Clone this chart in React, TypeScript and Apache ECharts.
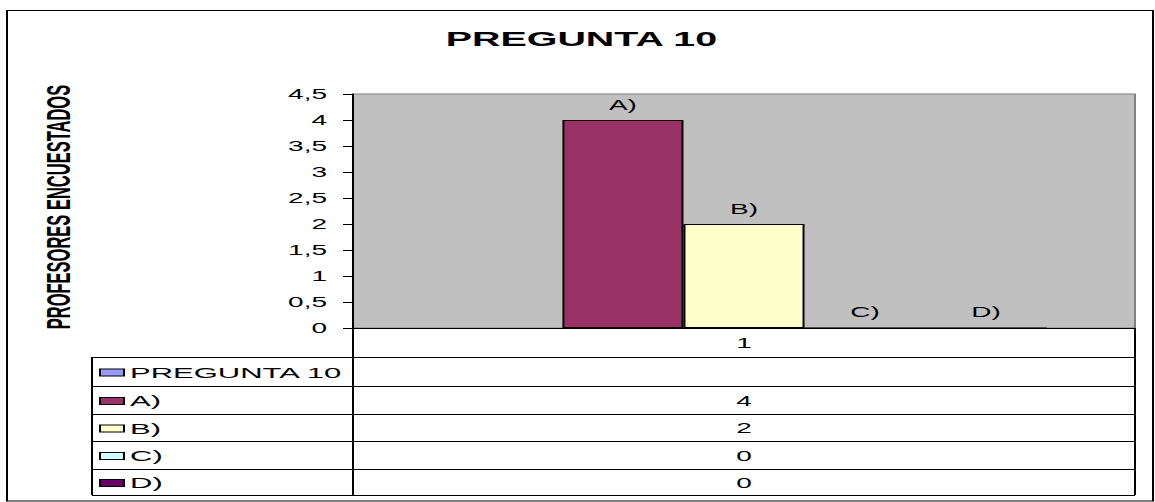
import React, { useEffect, useRef } from "react";
import * as echarts from "echarts";

// ---- data ----
const title = "PREGUNTA 10";
const yAxisTitle = "PROFESORES ENCUESTADOS";
const categories = ["1"];
const seriesNames = ["PREGUNTA 10", "A)", "B)", "C)", "D)"];
const seriesValues: (number | null)[] = [null, 4, 2, 0, 0];
const seriesColors = ["#9999FF", "#993366", "#FFFFCC", "#CCFFFF", "#660066"];
const yMin = 0;
const yMax = 4.5;
const yStep = 0.5;

const FONT = "'Liberation Sans', Arial, sans-serif";
const SX = 2; // horizontal stretch of the original picture
const W = 578;
const H = 502;

export default function App() {
  const ref = useRef<HTMLDivElement>(null);

  useEffect(() => {
    if (!ref.current) return;
    const chart = echarts.init(ref.current, null, { renderer: "svg" });

    // layout (internal, unstretched coordinates)
    const gridLeft = 176.5;
    const gridRight = 567.5;
    const gridTop = 94;
    const gridBottomY = 328;
    const tableLeft = 46;
    const rowEdges = [357, 386, 414, 441, 469, 495];

    const graphics: any[] = [];
    // outer border
    graphics.push({
      type: "rect",
      shape: { x: 3.5, y: 10.5, width: 573, height: 490.5 },
      style: { fill: "none", stroke: "#000", lineWidth: 1 },
      z: 0,
    });
    // y-axis title
    graphics.push({
      type: "text",
      x: 29.5,
      y: 207,
      rotation: Math.PI / 2,
      style: {
        text: yAxisTitle,
        font: `bold 16.5px ${FONT}`,
        fill: "#000",
        textAlign: "center",
        textVerticalAlign: "middle",
      },
    });
    // axis row verticals
    graphics.push({
      type: "line",
      shape: { x1: gridLeft, y1: gridBottomY, x2: gridLeft, y2: rowEdges[rowEdges.length - 1] },
      style: { stroke: "#000", lineWidth: 1 },
      z: 10,
    });
    graphics.push({
      type: "line",
      shape: { x1: gridRight, y1: gridBottomY, x2: gridRight, y2: rowEdges[rowEdges.length - 1] },
      style: { stroke: "#000", lineWidth: 1 },
      z: 10,
    });
    graphics.push({
      type: "line",
      shape: { x1: tableLeft, y1: rowEdges[0], x2: tableLeft, y2: rowEdges[rowEdges.length - 1] },
      style: { stroke: "#000", lineWidth: 1 },
      z: 10,
    });
    rowEdges.forEach((y) => {
      graphics.push({
        type: "line",
        shape: { x1: tableLeft, y1: y + 0.5, x2: gridRight, y2: y + 0.5 },
        style: { stroke: "#000", lineWidth: 1 },
        z: 10,
      });
    });
    const valueCenterX = (gridLeft + gridRight) / 2;
    seriesNames.forEach((name, i) => {
      const cy = (rowEdges[i] + rowEdges[i + 1]) / 2 + 1;
      graphics.push({
        type: "rect",
        shape: { x: 50, y: cy - 3.5, width: 12, height: 7 },
        style: { fill: seriesColors[i], stroke: "#000", lineWidth: 1 },
        z: 10,
      });
      graphics.push({
        type: "text",
        x: 65,
        y: cy,
        style: {
          text: name,
          font: `15.5px ${FONT}`,
          fill: "#000",
          textAlign: "left",
          textVerticalAlign: "middle",
        },
        z: 10,
      });
      const v = seriesValues[i];
      if (v !== null && v !== undefined) {
        graphics.push({
          type: "text",
          x: valueCenterX,
          y: cy,
          style: {
            text: String(v),
            font: `14px ${FONT}`,
            fill: "#000",
            textAlign: "center",
            textVerticalAlign: "middle",
          },
          z: 10,
        });
      }
    });

    chart.setOption({
      animation: false,
      backgroundColor: "#fff",
      title: {
        text: title,
        left: 290.75,
        top: 29,
        padding: 0,
        textAlign: "center",
        textStyle: { fontFamily: FONT, fontSize: 19.7, fontWeight: "bold", color: "#000" },
      },
      grid: {
        left: gridLeft,
        right: W - gridRight,
        top: gridTop,
        bottom: H - gridBottomY,
        show: true,
        backgroundColor: "#C0C0C0",
        borderColor: "#808080",
        borderWidth: 1,
      },
      xAxis: {
        type: "category",
        data: categories,
        axisLine: { show: true, lineStyle: { color: "#000", width: 1 } },
        axisTick: { show: false },
        axisLabel: { color: "#000", fontFamily: FONT, fontSize: 14, margin: 8 },
        splitLine: { show: false },
      },
      yAxis: {
        type: "value",
        min: yMin,
        max: yMax,
        interval: yStep,
        axisLine: { show: true, lineStyle: { color: "#000", width: 1 } },
        axisTick: { show: true, length: 5, lineStyle: { color: "#000" } },
        axisLabel: {
          color: "#000",
          fontFamily: FONT,
          fontSize: 14,
          margin: 13,
          formatter: (v: number) => String(v).replace(".", ","),
        },
        splitLine: { show: false },
      },
      series: seriesNames.map((name, i) => ({
        type: "bar",
        name,
        data: [seriesValues[i] === null ? "-" : seriesValues[i]],
        barGap: "0%",
        barCategoryGap: "22.6%",
        itemStyle: { color: seriesColors[i], borderColor: "#000", borderWidth: 1 },
        label: {
          show: i > 0,
          position: "top",
          distance: 8,
          formatter: () => name,
          color: "#000",
          fontFamily: FONT,
          fontSize: 14,
        },
      })),
      graphic: graphics,
    });

    return () => chart.dispose();
  }, []);

  return (
    <div
      ref={ref}
      style={{
        position: "absolute",
        left: 0,
        top: 0,
        width: W,
        height: H,
        transform: `scaleX(${SX})`,
        transformOrigin: "0 0",
      }}
    />
  );
}
